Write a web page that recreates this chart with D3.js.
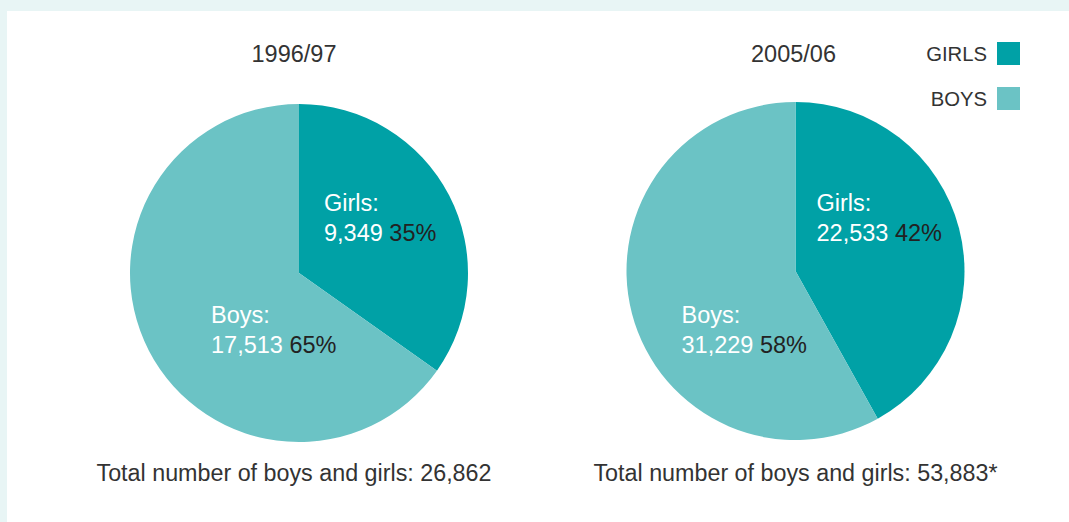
<!DOCTYPE html>
<html>
<head>
<meta charset="utf-8">
<script src="https://cdn.jsdelivr.net/npm/d3@7"></script>
<style>
  body { margin: 0; background: #fff; }
  svg text { font-family: "Liberation Sans", Arial, sans-serif; }
</style>
</head>
<body>
<svg id="chart" width="1069" height="522"></svg>
<script>
const years = ["1996/97", "2005/06"];
const girls = [9349, 22533];
const boys = [17513, 31229];
const girlsPct = ["35%", "42%"];
const boysPct = ["65%", "58%"];
const totals = ["26,862", "53,883*"];
const legendLabels = ["GIRLS", "BOYS"];
const colors = ["#00a1a6", "#6bc3c5"];

const svg = d3.select("#chart");
const fmt = d3.format(",");

// light frame on top and left
svg.append("rect").attr("x", 0).attr("y", 0).attr("width", 1069).attr("height", 11).attr("fill", "#e8f5f5");
svg.append("rect").attr("x", 0).attr("y", 0).attr("width", 7).attr("height", 522).attr("fill", "#e8f5f5");

const centers = [{ x: 299, y: 273 }, { x: 795.5, y: 271 }];
const titleX = [294, 793.5];
const totalX = [294, 795.5];
const radius = 169;
const pie = d3.pie().sort(null).value((d) => d.value);
const arc = d3.arc().innerRadius(0).outerRadius(radius);

// label offsets relative to pie centre
const girlsLabelPos = [{ x: 25, y: -62 }, { x: 21, y: -60 }];
const boysLabelPos = [{ x: -88, y: 50 }, { x: -114, y: 52 }];

years.forEach((yr, i) => {
  const c = centers[i];
  const g = svg.append("g").attr("transform", `translate(${c.x},${c.y})`);
  const data = [
    { key: "girls", value: girls[i] },
    { key: "boys", value: boys[i] },
  ];
  g.selectAll("path")
    .data(pie(data))
    .join("path")
    .attr("d", arc)
    .attr("fill", (d, j) => colors[j]);

  svg.append("text")
    .attr("x", titleX[i])
    .attr("y", 62)
    .attr("text-anchor", "middle")
    .attr("font-size", 23.5)
    .attr("fill", "#333")
    .text(yr);

  const labels = [
    { name: "Girls:", val: girls[i], pct: girlsPct[i], pos: girlsLabelPos[i] },
    { name: "Boys:", val: boys[i], pct: boysPct[i], pos: boysLabelPos[i] },
  ];
  labels.forEach((l) => {
    const t = g.append("text")
      .attr("x", l.pos.x)
      .attr("y", l.pos.y)
      .attr("font-size", 23.5)
      .attr("fill", "#fff");
    t.append("tspan").attr("x", l.pos.x).text(l.name);
    const t2 = t.append("tspan").attr("x", l.pos.x).attr("dy", 30);
    t2.append("tspan").text(fmt(l.val) + " ");
    t2.append("tspan").attr("fill", "#222").text(l.pct);
  });

  svg.append("text")
    .attr("x", totalX[i])
    .attr("y", 481)
    .attr("text-anchor", "middle")
    .attr("font-size", 23.3)
    .attr("fill", "#333")
    .text("Total number of boys and girls: " + totals[i]);
});

// legend
const legend = svg.append("g").attr("transform", "translate(997,42)");
legendLabels.forEach((lab, i) => {
  legend.append("rect")
    .attr("x", 0)
    .attr("y", i * 45)
    .attr("width", 23)
    .attr("height", 23)
    .attr("fill", colors[i]);
  legend.append("text")
    .attr("x", -10)
    .attr("y", i * 45 + 19)
    .attr("text-anchor", "end")
    .attr("font-size", 20.3)
    .attr("fill", "#333")
    .text(lab);
});
</script>
</body>
</html>
